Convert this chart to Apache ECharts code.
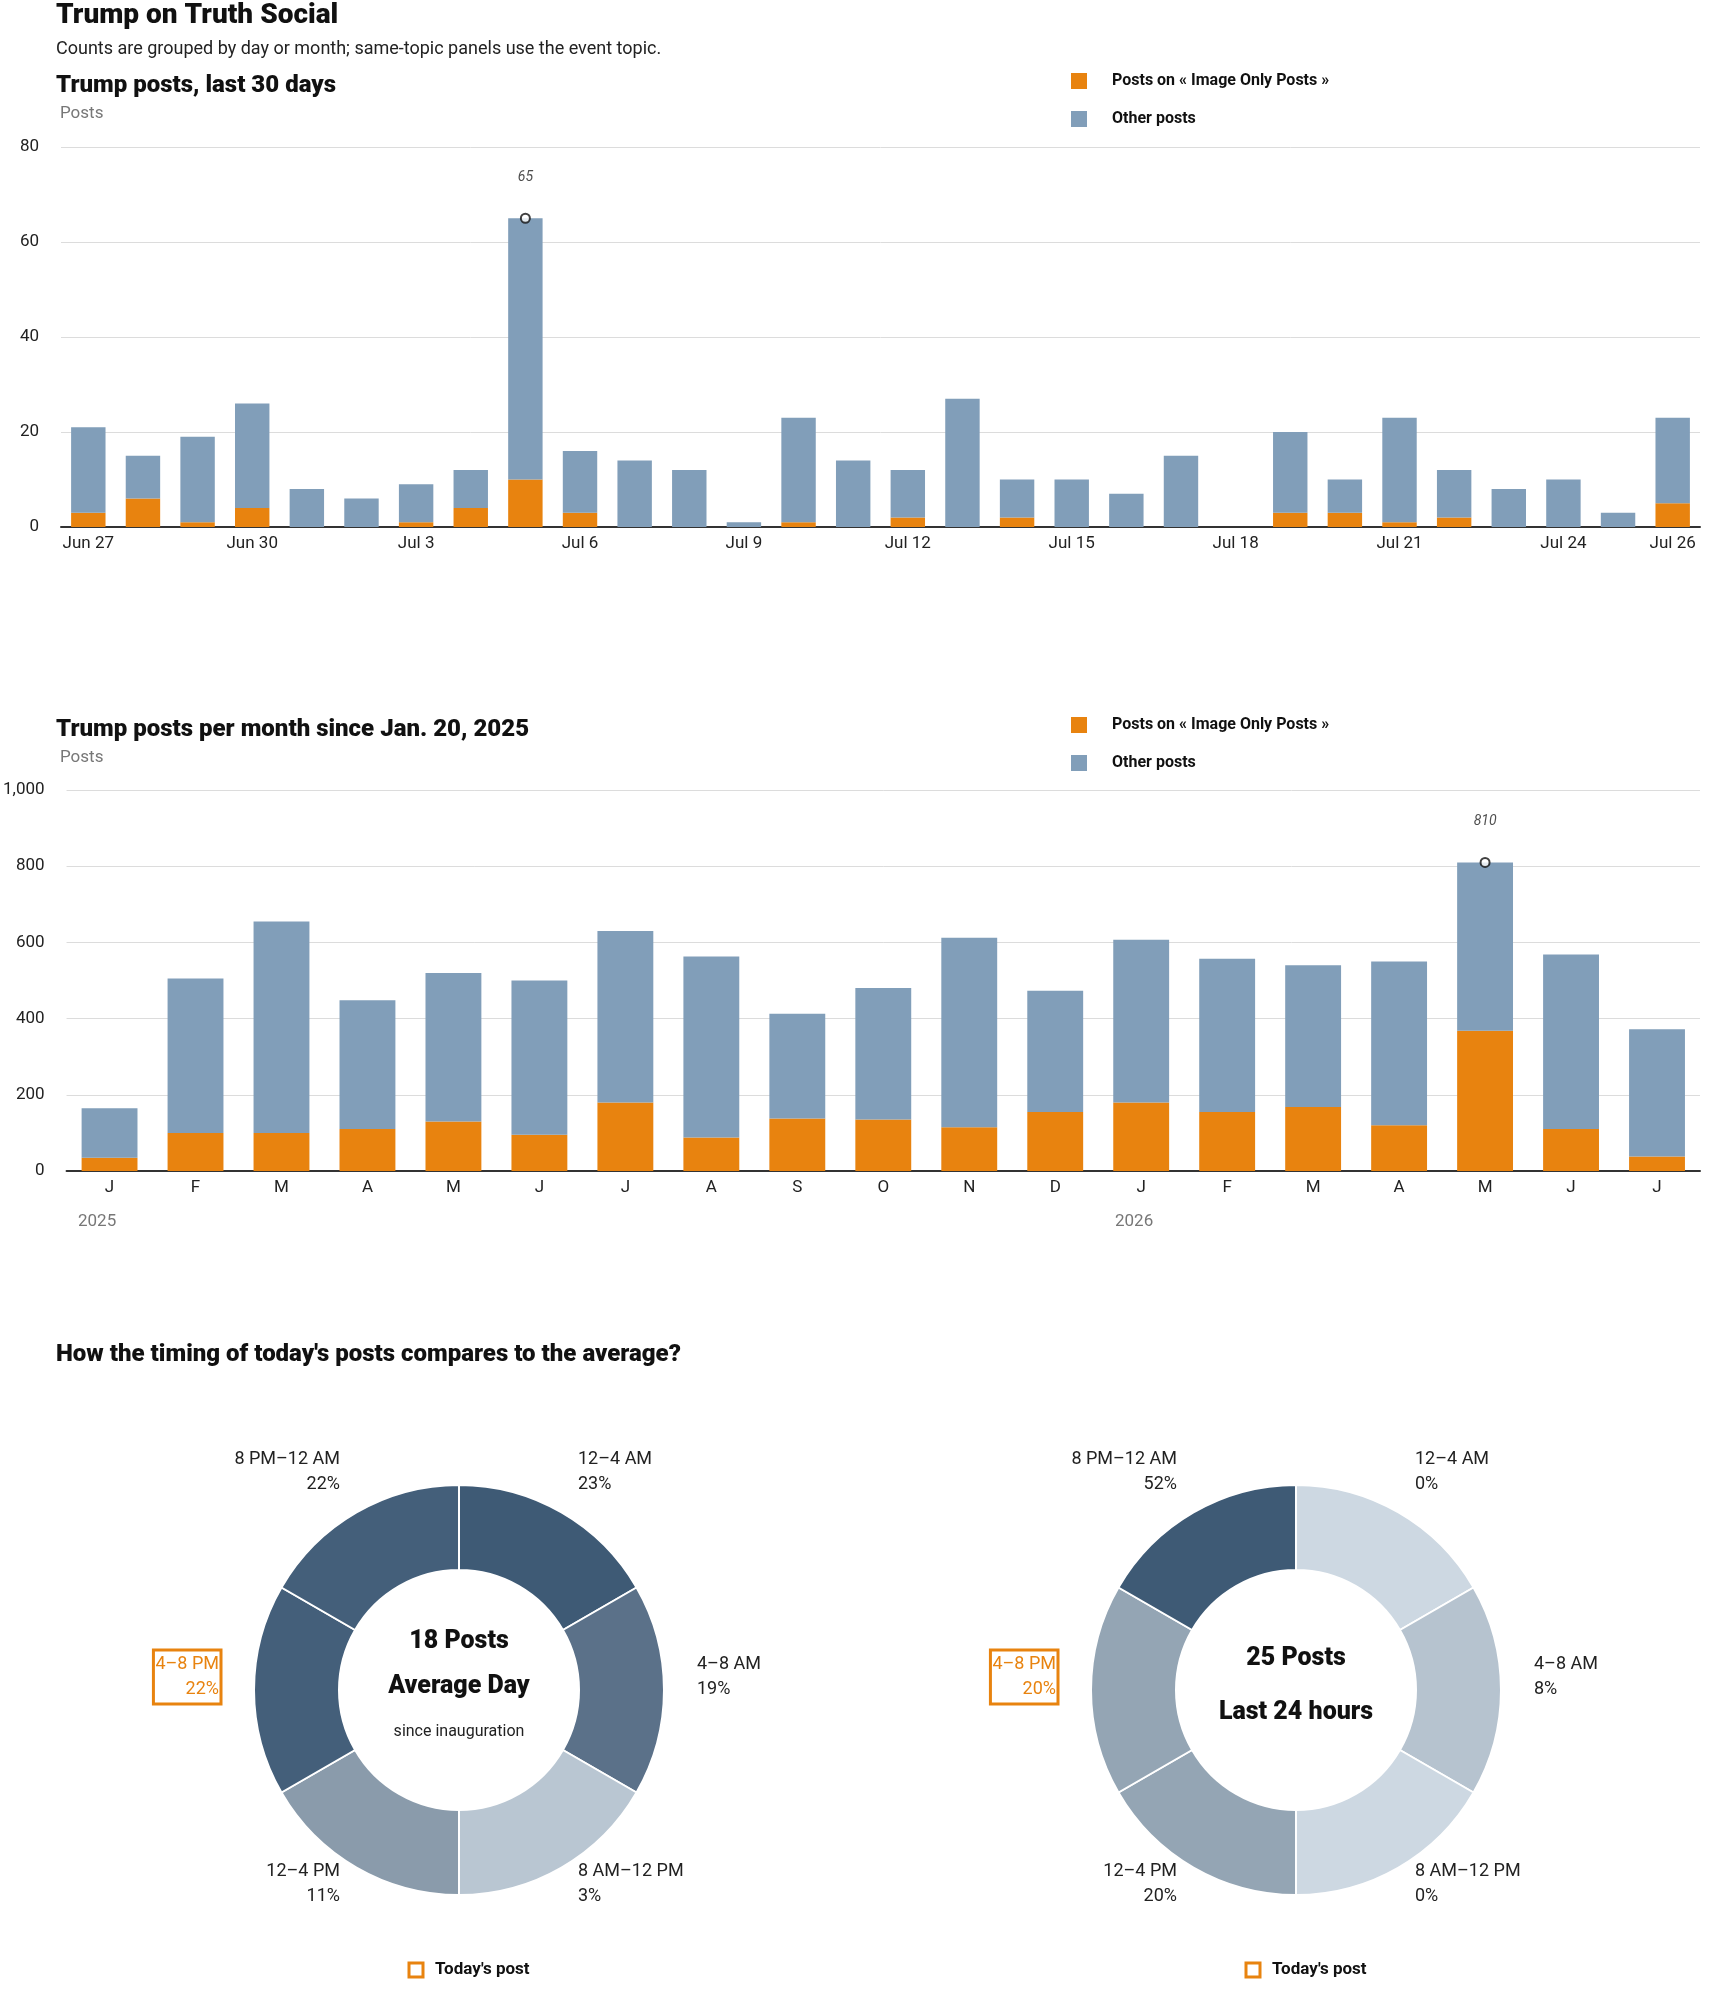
<!DOCTYPE html>
<html><head><meta charset="utf-8">
<script src="https://cdn.jsdelivr.net/npm/echarts@6/dist/echarts.min.js"></script>
<style>html,body{margin:0;padding:0;background:#fff}#c{width:1710px;height:1993px}</style>
</head><body><div id="c"></div>
<script>
// ---- data ----
const dayLabels = ['Jun 27','Jun 28','Jun 29','Jun 30','Jul 1','Jul 2','Jul 3','Jul 4','Jul 5','Jul 6','Jul 7','Jul 8','Jul 9','Jul 10','Jul 11','Jul 12','Jul 13','Jul 14','Jul 15','Jul 16','Jul 17','Jul 18','Jul 19','Jul 20','Jul 21','Jul 22','Jul 23','Jul 24','Jul 25','Jul 26'];
const dayTotal  = [21,15,19,26,8,6,9,12,65,16,14,12,1,23,14,12,27,10,10,7,15,0,20,10,23,12,8,10,3,23];
const dayTopic  = [3,6,1,4,0,0,1,4,10,3,0,0,0,1,0,2,0,2,0,0,0,0,3,3,1,2,0,0,0,5];
const monthLabels = ['J','F','M','A','M','J','J','A','S','O','N','D','J','F','M','A','M','J','J'];
const monthTotal = [165,505,655,448,520,500,630,563,413,480,612,473,607,557,540,550,810,568,372];
const monthTopic = [35,100,100,110,130,95,180,88,138,135,115,155,180,155,168,120,368,110,38];
const yearLabels = ['2025','2026'];
const slotLabels = ['12–4 AM','4–8 AM','8 AM–12 PM','12–4 PM','4–8 PM','8 PM–12 AM'];
const avgPct = [23,19,3,11,22,22];
const todayPct = [0,8,0,20,20,52];
const avgPosts = 18, todayPosts = 25;
const todaySlot = 4;
// ---- styles ----
const ORANGE='#e8830f', BLUE='#819eb9';
const F="'Liberation Sans Narrow','Roboto','Liberation Sans',sans-serif";
const H="'Roboto','Inter',sans-serif";
const dayOther = dayTotal.map((v,i)=>v-dayTopic[i]);
const monthOther = monthTotal.map((v,i)=>v-monthTopic[i]);
const peak = (arr)=>{const m=Math.max(...arr);return arr.map(v=>v===m?v:null);};
function shade(p){ // darker for higher pct
  if(p>=23) return '#3e5a75'; if(p>=22) return '#445f7a'; if(p>=19) return '#5b7189';
  if(p>=11) return '#8a9bab'; if(p>=3) return '#b9c6d2'; if(p>=20) return '#94a5b4'; return '#cdd8e2';
}
function shade2(p){ if(p>=50) return '#3e5a75'; if(p>=20) return '#94a5b4'; if(p>=8) return '#b6c3cf'; return '#cdd8e2'; }
const chart = echarts.init(document.getElementById('c'));
const axisY = (gi,max,iv)=>({gridIndex:gi,min:0,max:max,interval:iv,axisLine:{show:false},axisTick:{show:false},
  axisLabel:{color:'#222',fontFamily:F,fontSize:17,margin:22},splitLine:{lineStyle:{color:'#dcdcdc'}}});
const axisX = (gi,data,interval)=>({type:'category',gridIndex:gi,data:data,axisTick:{show:false},
  axisLine:{lineStyle:{color:'#333',width:2}},axisLabel:{color:'#222',fontFamily:F,fontSize:17,margin:8,interval:interval}});
const legend = (top)=>({orient:'vertical',left:1066,top:top,itemWidth:16,itemHeight:16,itemGap:22,icon:'rect',
  data:['Posts on « Image Only Posts »','Other posts'],textStyle:{fontFamily:H,fontWeight:'bold',fontSize:16,color:'#111',padding:[0,0,0,20]}});
const centers=[[459,1690],[1296,1690]];
const offs=[[119,-218,'left'],[238,-13,'left'],[119,194,'left'],[-119,194,'right'],[-238,-13,'right'],[-119,-218,'right']];
const graphics=[
 {type:'text',left:56,top:2,style:{text:'Trump on Truth Social',font:"900 28px "+H,fill:'#111'}},
 {type:'text',left:56,top:40,style:{text:'Counts are grouped by day or month; same-topic panels use the event topic.',font:"18px "+F,fill:'#222'}},
 {type:'text',left:56,top:74,style:{text:'Trump posts, last 30 days',font:"900 24px "+H,fill:'#111'}},
 {type:'text',left:60,top:105,style:{text:'Posts',font:"17px "+F,fill:'#777'}},
 {type:'text',left:56,top:718,style:{text:'Trump posts per month since Jan. 20, 2025',font:"900 24px "+H,fill:'#111'}},
 {type:'text',left:60,top:749,style:{text:'Posts',font:"17px "+F,fill:'#777'}},
 {type:'text',left:78,top:1213,style:{text:yearLabels[0],font:"17px "+F,fill:'#777'}},
 {type:'text',left:1115,top:1213,style:{text:yearLabels[1],font:"17px "+F,fill:'#777'}},
 {type:'text',left:56,top:1343,style:{text:"How the timing of today's posts compares to the average?",font:"900 24px "+H,fill:'#111'}},
];
[[avgPct,centers[0],[avgPosts+' Posts','Average Day','since inauguration']],[todayPct,centers[1],[todayPosts+' Posts','Last 24 hours']]].forEach(([pct,c,ct],k)=>{
  slotLabels.forEach((s,i)=>{
    const o=offs[i], hi=i===todaySlot;
    graphics.push({type:'text',x:c[0]+o[0],y:c[1]+o[1],style:{text:s+'\n'+pct[i]+'%',font:"18px "+F,lineHeight:25,
      fill:hi?ORANGE:'#222',align:o[2],verticalAlign:'middle',
      borderColor:hi?ORANGE:null,borderWidth:hi?3:0,padding:hi?[2,2,2,2]:0}});
  });
  if(ct.length===3){
    graphics.push({type:'text',x:c[0],y:c[1]-48,style:{text:ct[0],font:"900 25px "+H,fill:'#111',align:'center',verticalAlign:'middle'}});
    graphics.push({type:'text',x:c[0],y:c[1]-3,style:{text:ct[1],font:"900 25px "+H,fill:'#111',align:'center',verticalAlign:'middle'}});
    graphics.push({type:'text',x:c[0],y:c[1]+42,style:{text:ct[2],font:"16px "+F,fill:'#222',align:'center',verticalAlign:'middle'}});
  } else {
    graphics.push({type:'text',x:c[0],y:c[1]-31,style:{text:ct[0],font:"900 25px "+H,fill:'#111',align:'center',verticalAlign:'middle'}});
    graphics.push({type:'text',x:c[0],y:c[1]+23,style:{text:ct[1],font:"900 25px "+H,fill:'#111',align:'center',verticalAlign:'middle'}});
  }
  graphics.push({type:'rect',shape:{x:c[0]-50,y:1963,width:14,height:14},style:{fill:'#fff',stroke:ORANGE,lineWidth:3}});
  graphics.push({type:'text',x:c[0]-24,y:1970,style:{text:"Today's post",font:"bold 17px "+H,fill:'#111',verticalAlign:'middle'}});
});
const peakSeries=(xi,yi,data)=>({type:'scatter',xAxisIndex:xi,yAxisIndex:yi,data:data,symbol:'circle',symbolSize:9,
  itemStyle:{color:'#fff',borderColor:'#111',borderWidth:2},z:5,
  label:{show:true,position:'top',distance:28,fontFamily:F,fontStyle:'italic',fontSize:14,color:'#222'}});
chart.setOption({
  animation:false,
  grid:[{left:61,right:10,top:147,height:380},{left:61,right:10,top:790,height:381}],
  legend:[legend(68),legend(712)],
  xAxis:[axisX(0,dayLabels,(i)=>i%3===0||i===dayLabels.length-1),axisX(1,monthLabels,0)],
  yAxis:[axisY(0,80,20),axisY(1,1000,200)],
  graphic:graphics,
  series:[
   {name:'Posts on « Image Only Posts »',type:'bar',stack:'a',xAxisIndex:0,yAxisIndex:0,data:dayTopic,itemStyle:{color:ORANGE},barWidth:'63%'},
   {name:'Other posts',type:'bar',stack:'a',xAxisIndex:0,yAxisIndex:0,data:dayOther,itemStyle:{color:BLUE}},
   peakSeries(0,0,peak(dayTotal)),
   {name:'Posts on « Image Only Posts »',type:'bar',stack:'b',xAxisIndex:1,yAxisIndex:1,data:monthTopic,itemStyle:{color:ORANGE},barWidth:'65%'},
   {name:'Other posts',type:'bar',stack:'b',xAxisIndex:1,yAxisIndex:1,data:monthOther,itemStyle:{color:BLUE}},
   peakSeries(1,1,peak(monthTotal)),
   {type:'pie',center:centers[0],radius:[120,205],startAngle:90,clockwise:true,label:{show:false},silent:true,
    data:slotLabels.map((s,i)=>({name:s,value:1,itemStyle:{color:shade(avgPct[i])}})),itemStyle:{borderColor:'#fff',borderWidth:2}},
   {type:'pie',center:centers[1],radius:[120,205],startAngle:90,clockwise:true,label:{show:false},silent:true,
    data:slotLabels.map((s,i)=>({name:s,value:1,itemStyle:{color:shade2(todayPct[i])}})),itemStyle:{borderColor:'#fff',borderWidth:2}}
  ]
});
</script></body></html>
